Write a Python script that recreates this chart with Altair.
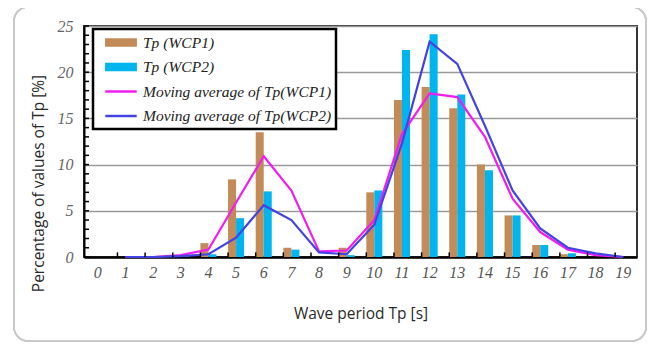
import altair as alt
import pandas as pd

# ---- data ----
periods = list(range(20))
wcp1 = [0, 0, 0, 0.1, 1.5, 8.4, 13.5, 1.0, 0, 1.0, 7.0, 17.0, 18.4, 16.1, 10.0, 4.5, 1.3, 0.3, 0, 0]
wcp2 = [0, 0, 0, 0.1, 0.3, 4.2, 7.1, 0.8, 0, 0.2, 7.2, 22.4, 24.1, 17.6, 9.4, 4.5, 1.3, 0.4, 0, 0]
ma_periods = list(range(1, 20))
ma1 = [0, 0, 0.2, 0.8, 5.9, 10.9, 7.2, 0.6, 0.7, 4.0, 13.3, 17.7, 17.3, 13.0, 6.3, 2.7, 0.8, 0.2, 0]
ma2 = [0, 0, 0.1, 0.3, 2.1, 5.6, 4.0, 0.5, 0.3, 3.5, 12.3, 23.3, 20.9, 14.2, 7.2, 3.1, 1.0, 0.4, 0]

series_names = ["Tp (WCP1)", "Tp (WCP2)",
                "Moving average of Tp(WCP1)", "Moving average of Tp(WCP2)"]
series_colors = ["#C38B57", "#00B4EE", "#F21CF2", "#4343E4"]
legend_shapes = ["M-1.78,-0.36H1.78V0.36H-1.78Z", "M-1.78,-0.36H1.78V0.36H-1.78Z",
                 "M-1.9,0H1.9", "M-1.9,0H1.9"]
y_labels = [0, 5, 10, 15, 20, 25]
y_minor = list(range(0, 26))
x_bounds = list(range(1, 20))

bars_df = pd.DataFrame({
    "period": periods * 2,
    "series": [series_names[0]] * 20 + [series_names[1]] * 20,
    "value": wcp1 + wcp2,
})
lines_df = pd.DataFrame({
    "period": ma_periods * 2,
    "series": [series_names[2]] * 19 + [series_names[3]] * 19,
    "value": ma1 + ma2,
})
legend_df = pd.DataFrame({"series": series_names})
ytick_df = pd.DataFrame({"value": y_minor})
xtick_df = pd.DataFrame({"period": x_bounds})

x_scale = alt.Scale(domain=periods, paddingInner=0.42, paddingOuter=0.21)
y_scale = alt.Scale(domain=[0, 25], nice=False)
# colour scale for the marks (reversed order so it is not merged with the legend scales)
color_scale = alt.Scale(domain=series_names[::-1], range=series_colors[::-1])

x_axis = alt.Axis(title="Wave period Tp  [s]", labelAngle=0,
                  labelFont="Liberation Serif", labelFontStyle="italic",
                  labelFontSize=16, labelColor="#555", labelPadding=7,
                  ticks=False, tickSize=0, domainColor="#000", domainWidth=2.5,
                  grid=False, titleFont="Open Sans", titleFontSize=15.5,
                  titleFontWeight="normal", titleColor="#2a2a2a",
                  titleY=56, titleBaseline="middle")
y_axis = alt.Axis(title="Percentage of values of Tp [%]", values=y_labels,
                  labelFont="Liberation Serif", labelFontStyle="italic",
                  labelFontSize=16, labelColor="#666", labelPadding=11,
                  ticks=False, tickSize=0, domainColor="#000", domainWidth=2,
                  grid=True, gridColor="#9a9a9a", gridWidth=1.5,
                  titleFont="Open Sans", titleFontSize=15.5,
                  titleFontWeight="normal", titleColor="#2a2a2a",
                  titleX=-46, titleY=157, titleBaseline="middle",
                  titleAlign="center", titleAngle=270)

X = alt.X("period:O", scale=x_scale, axis=x_axis)
Y = alt.Y("value:Q", scale=y_scale, axis=y_axis)

frame = alt.Chart(legend_df).mark_rect(
    fill=None, stroke="#c9c9c9", strokeWidth=1.5, cornerRadius=14, clip=False
).encode(x=alt.value(-70), x2=alt.value(562), y=alt.value(-19), y2=alt.value(315))

bars = alt.Chart(bars_df).mark_bar().encode(
    x=X, y=Y,
    xOffset=alt.XOffset("series:N", scale=alt.Scale(domain=series_names[:2], paddingInner=0, paddingOuter=0)),
    color=alt.Color("series:N", scale=color_scale, legend=None),
)

lines = alt.Chart(lines_df).mark_line(strokeWidth=2.2).encode(
    x=X, y=Y,
    color=alt.Color("series:N", scale=color_scale, legend=None),
)

legend = alt.Legend(title=None, orient="none", legendX=9, legendY=3, padding=4,
                    symbolSize=272, symbolStrokeWidth=2.5, symbolOpacity=1,
                    labelFont="Liberation Serif", labelFontStyle="italic",
                    labelFontSize=15.5, labelColor="#222", labelOffset=12.5,
                    symbolOffset=14.5, rowPadding=6.5, labelLimit=300)

legend_layer = alt.Chart(legend_df).mark_point(filled=True, size=272, opacity=0).encode(
    fill=alt.Fill("series:N", scale=alt.Scale(domain=series_names, range=series_colors), legend=legend),
    stroke=alt.Stroke("series:N", scale=alt.Scale(domain=series_names, range=series_colors), legend=legend),
    shape=alt.Shape("series:N", scale=alt.Scale(domain=series_names, range=legend_shapes), legend=legend),
)

yticks = alt.Chart(ytick_df).mark_rule(color="#000", strokeWidth=1.5).encode(
    y=Y, x=alt.value(0), x2=alt.value(5),
)
xticks = alt.Chart(xtick_df).mark_rule(color="#000", strokeWidth=1.5).encode(
    x=alt.X("period:O", scale=x_scale, axis=x_axis, bandPosition=0),
    y=alt.datum(0), y2=alt.datum(0.5),
)

chart = alt.layer(frame, bars, lines, yticks, xticks, legend_layer).properties(
    width=553, height=231,
    autosize=alt.AutoSizeParams(type="none"),
    padding={"left": 76, "top": 18, "right": 11, "bottom": 86},
).configure_view(
    stroke="#333", strokeWidth=2,
).configure_legend(
    strokeColor="#000", strokeWidth=2.5, fillColor="white",
)

chart.save("out.html", embed_options={"renderer": "svg", "actions": False})
